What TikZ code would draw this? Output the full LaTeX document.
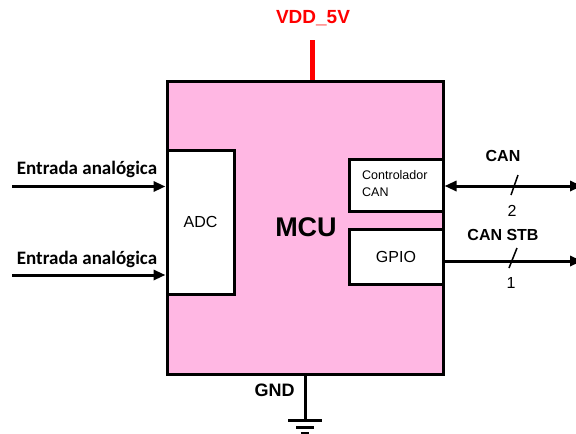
\documentclass[tikz,border=0pt]{standalone}
\usepackage{fontspec}
\setmainfont{Liberation Sans}
\newfontfamily\calibri{Carlito}
\usetikzlibrary{arrows.meta, positioning}
\definecolor{mcupink}{RGB}{255,183,227}
\definecolor{vddred}{RGB}{255,0,0}

\begin{document}
\begin{tikzpicture}[x=1pt, y=-1pt, >={Triangle[length=12pt, width=10pt]},
    block/.style={draw=black, line width=3pt, fill=white, inner sep=0pt},
    wire/.style={line width=3pt},
    busmark/.style={line width=1.5pt},
    pinlbl/.style={font=\fontsize{16}{18}\selectfont\bfseries},
    inlbl/.style={font=\calibri\fontsize{19}{21}\selectfont\bfseries}]

    \useasboundingbox (0,0) rectangle (576,434);

    % MCU body
    \node[block, fill=mcupink, minimum width=276pt, minimum height=293pt]
      (mcu) at (305,228) {};
    \node[font=\fontsize{27}{30}\selectfont\bfseries] (mcutxt) at (306,227) {MCU};

    % Internal blocks
    \node[block, minimum width=67pt, minimum height=144pt,
      font=\fontsize{16}{18}\selectfont] (adc) at (200.5,222) {ADC};
    \node[block, minimum width=94pt, minimum height=52pt]
      (ctl) at (396,185.5) {};
    \node[anchor=west, align=left, inner sep=0pt,
      font=\fontsize{12.5}{17}\selectfont] (ctltxt) at (362,184) {Controlador\\CAN};
    \node[block, minimum width=94pt, minimum height=55pt,
      font=\fontsize{16}{18}\selectfont] (gpio) at (396,256.5) {GPIO};

    % Supply
    \node[font=\fontsize{19}{21}\selectfont\bfseries, text=vddred]
      (vdd) at (313,18) {VDD\_5V};
    \coordinate (vddtop) at (312.5,40);
    \draw[vddred, line width=5pt] (vddtop) -- (vddtop |- mcu.north);

    % Ground
    \node[font=\fontsize{18}{20}\selectfont\bfseries] (gnd) at (274.5,390) {GND};
    \coordinate (gndpt) at (305,420);
    \draw[wire] (mcu.south -| gndpt) -- (gndpt);
    \draw[wire] (288,420) -- (322,420);
    \draw[wire] (296,427) -- (314,427);
    \draw[wire] (301,433) -- (309,433);

    % Analog inputs
    \coordinate (in1) at (12,186.5);
    \coordinate (in2) at (12,275);
    \draw[wire, ->] (in1) -- (in1 -| mcu.west);
    \draw[wire, ->] (in2) -- (in2 -| mcu.west);
    \node[inlbl] (in1txt) at (87,169) {Entrada analógica};
    \node[inlbl] (in2txt) at (87,259) {Entrada analógica};

    % CAN bus
    \coordinate (canend) at (582,186);
    \draw[wire, <->] (canend -| mcu.east) -- (canend);
    \draw[busmark] (511,195) -- (518,175);
    \node[pinlbl] (cantxt) at (503,156) {CAN};
    \node[font=\fontsize{16}{18}\selectfont] (canw) at (512,211) {2};

    % Standby line
    \coordinate (stbend) at (582,261);
    \draw[wire, ->] (stbend -| mcu.east) -- (stbend);
    \draw[busmark] (509,268) -- (517,248);
    \node[pinlbl] (stbtxt) at (503,235) {CAN STB};
    \node[font=\fontsize{16}{18}\selectfont] (stbw) at (511,283) {1};

\end{tikzpicture}
\end{document}
